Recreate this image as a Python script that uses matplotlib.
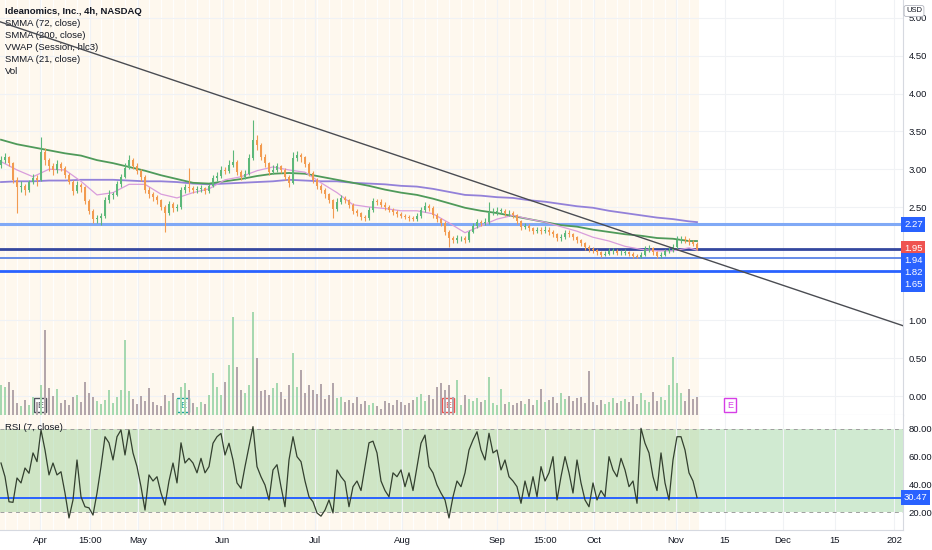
import numpy as np
import matplotlib.pyplot as plt
from matplotlib import transforms

plt.rcParams['font.family'] = ['Liberation Sans Narrow', 'Liberation Sans', 'DejaVu Sans']

# 4h candles, one entry per bar (left to right)
opens = [3.05, 3.12, 3.16, 3.08, 2.86, 2.76, 2.78, 2.72, 2.83, 2.88,
         2.86, 3.23, 3.12, 3.04, 2.99, 3.07, 3.02, 2.92, 2.83, 2.71,
         2.79, 2.76, 2.58, 2.45, 2.34, 2.35, 2.38, 2.59, 2.66, 2.66,
         2.80, 2.90, 3.02, 3.12, 3.04, 2.98, 2.90, 2.72, 2.67, 2.63,
         2.59, 2.50, 2.42, 2.54, 2.49, 2.50, 2.72, 2.76, 2.75, 2.72,
         2.74, 2.75, 2.71, 2.78, 2.88, 2.91, 2.99, 2.98, 3.06, 3.10,
         2.96, 2.90, 2.94, 3.15, 3.39, 3.32, 3.16, 3.08, 2.96, 2.99,
         3.04, 2.99, 2.90, 2.82, 3.15, 3.19, 3.16, 3.07, 2.95, 2.86,
         2.78, 2.72, 2.67, 2.59, 2.47, 2.57, 2.62, 2.59, 2.53, 2.45,
         2.42, 2.37, 2.35, 2.46, 2.58, 2.57, 2.53, 2.50, 2.46, 2.43,
         2.41, 2.38, 2.37, 2.35, 2.34, 2.38, 2.46, 2.51, 2.49, 2.39,
         2.34, 2.29, 2.17, 2.09, 2.06, 2.09, 2.09, 2.06, 2.17, 2.25,
         2.30, 2.29, 2.30, 2.43, 2.43, 2.45, 2.45, 2.42, 2.42, 2.39,
         2.31, 2.24, 2.25, 2.22, 2.18, 2.20, 2.18, 2.20, 2.17, 2.14,
         2.09, 2.10, 2.16, 2.14, 2.10, 2.06, 2.02, 1.97, 1.94, 1.93,
         1.90, 1.87, 1.88, 1.92, 1.92, 1.89, 1.89, 1.90, 1.88, 1.85,
         1.84, 1.87, 1.94, 1.96, 1.90, 1.85, 1.87, 1.92, 1.93, 1.97,
         2.06, 2.08, 2.06, 2.04, 2.01]
closes = [3.12, 3.16, 3.08, 2.86, 2.76, 2.78, 2.72, 2.83, 2.88, 2.86,
          3.23, 3.12, 3.04, 2.99, 3.07, 3.02, 2.92, 2.83, 2.71, 2.79,
          2.76, 2.58, 2.45, 2.34, 2.35, 2.38, 2.59, 2.66, 2.66, 2.80,
          2.90, 3.02, 3.12, 3.04, 2.98, 2.90, 2.72, 2.67, 2.63, 2.59,
          2.50, 2.42, 2.54, 2.49, 2.50, 2.72, 2.76, 2.75, 2.72, 2.74,
          2.75, 2.71, 2.78, 2.88, 2.91, 2.99, 2.98, 3.06, 3.10, 2.96,
          2.90, 2.94, 3.15, 3.39, 3.32, 3.16, 3.08, 2.96, 2.99, 3.04,
          2.99, 2.90, 2.82, 3.15, 3.19, 3.16, 3.07, 2.95, 2.86, 2.78,
          2.72, 2.67, 2.59, 2.47, 2.57, 2.62, 2.59, 2.53, 2.45, 2.42,
          2.37, 2.35, 2.46, 2.58, 2.57, 2.53, 2.50, 2.46, 2.43, 2.41,
          2.38, 2.37, 2.35, 2.34, 2.38, 2.46, 2.51, 2.49, 2.39, 2.34,
          2.29, 2.17, 2.09, 2.06, 2.09, 2.09, 2.06, 2.17, 2.25, 2.30,
          2.29, 2.30, 2.43, 2.43, 2.45, 2.45, 2.42, 2.42, 2.39, 2.31,
          2.24, 2.25, 2.22, 2.18, 2.20, 2.18, 2.20, 2.17, 2.14, 2.09,
          2.10, 2.16, 2.14, 2.10, 2.06, 2.02, 1.97, 1.94, 1.93, 1.90,
          1.87, 1.88, 1.92, 1.92, 1.89, 1.89, 1.90, 1.88, 1.85, 1.84,
          1.87, 1.94, 1.96, 1.90, 1.85, 1.87, 1.92, 1.93, 1.97, 2.06,
          2.08, 2.06, 2.04, 2.01, 1.95]
highs = [3.18, 3.22, 3.18, 3.10, 2.90, 2.84, 2.80, 2.86, 2.93, 2.92,
         3.43, 3.28, 3.15, 3.08, 3.12, 3.10, 3.04, 2.95, 2.86, 2.84,
         2.82, 2.78, 2.60, 2.47, 2.40, 2.42, 2.63, 2.72, 2.70, 2.84,
         2.94, 3.08, 3.19, 3.15, 3.08, 3.00, 2.92, 2.76, 2.70, 2.66,
         2.61, 2.52, 2.58, 2.57, 2.54, 2.76, 2.80, 3.02, 2.78, 2.78,
         2.79, 2.77, 2.81, 2.92, 2.96, 3.04, 3.03, 3.12, 3.25, 3.12,
         2.99, 2.99, 3.20, 3.65, 3.45, 3.34, 3.20, 3.10, 3.05, 3.08,
         3.06, 3.01, 2.92, 3.23, 3.24, 3.22, 3.18, 3.09, 2.97, 2.88,
         2.80, 2.75, 2.69, 2.61, 2.62, 2.66, 2.64, 2.61, 2.55, 2.48,
         2.44, 2.40, 2.50, 2.62, 2.61, 2.60, 2.56, 2.53, 2.49, 2.46,
         2.44, 2.41, 2.40, 2.38, 2.42, 2.50, 2.57, 2.54, 2.51, 2.42,
         2.36, 2.31, 2.19, 2.12, 2.13, 2.12, 2.11, 2.20, 2.29, 2.34,
         2.33, 2.35, 2.57, 2.49, 2.50, 2.49, 2.47, 2.46, 2.45, 2.41,
         2.33, 2.29, 2.28, 2.24, 2.24, 2.23, 2.25, 2.23, 2.20, 2.16,
         2.14, 2.20, 2.19, 2.16, 2.12, 2.08, 2.04, 2.00, 1.97, 1.95,
         1.92, 1.92, 1.96, 1.96, 1.94, 1.93, 1.94, 1.92, 1.90, 1.88,
         1.91, 1.98, 2.00, 1.97, 1.92, 1.90, 1.95, 1.97, 2.01, 2.12,
         2.12, 2.11, 2.09, 2.07, 2.04]
lows = [3.02, 3.08, 3.04, 2.82, 2.42, 2.70, 2.66, 2.70, 2.80, 2.78,
        2.84, 3.05, 2.98, 2.92, 2.95, 2.97, 2.88, 2.80, 2.66, 2.68,
        2.70, 2.54, 2.41, 2.29, 2.29, 2.26, 2.36, 2.55, 2.60, 2.64,
        2.77, 2.88, 3.00, 3.00, 2.93, 2.85, 2.68, 2.62, 2.58, 2.54,
        2.46, 2.17, 2.40, 2.44, 2.45, 2.48, 2.68, 2.70, 2.68, 2.69,
        2.70, 2.67, 2.69, 2.76, 2.85, 2.88, 2.93, 2.95, 3.03, 2.92,
        2.86, 2.87, 2.92, 3.12, 3.25, 3.12, 3.03, 2.92, 2.93, 2.96,
        2.95, 2.86, 2.77, 2.80, 3.11, 3.10, 3.03, 2.91, 2.82, 2.74,
        2.68, 2.62, 2.55, 2.35, 2.45, 2.54, 2.55, 2.49, 2.41, 2.38,
        2.33, 2.31, 2.33, 2.44, 2.53, 2.50, 2.46, 2.43, 2.40, 2.37,
        2.35, 2.34, 2.32, 2.31, 2.32, 2.36, 2.44, 2.45, 2.36, 2.30,
        2.25, 2.13, 1.97, 2.02, 2.03, 2.05, 2.03, 2.04, 2.15, 2.22,
        2.25, 2.26, 2.28, 2.39, 2.40, 2.41, 2.38, 2.38, 2.35, 2.27,
        2.20, 2.21, 2.18, 2.14, 2.15, 2.14, 2.15, 2.13, 2.10, 2.05,
        2.05, 2.08, 2.10, 2.06, 2.02, 1.98, 1.93, 1.90, 1.89, 1.86,
        1.84, 1.85, 1.86, 1.88, 1.86, 1.86, 1.86, 1.85, 1.82, 1.82,
        1.82, 1.85, 1.91, 1.87, 1.82, 1.82, 1.85, 1.89, 1.91, 1.95,
        2.03, 2.02, 2.00, 1.98, 1.93]
# volume in millions
volume = [3.0, 2.8, 3.3, 2.5, 1.2, 0.9, 1.5, 1.0, 1.8, 1.3,
          3.0, 8.5, 2.7, 1.9, 2.6, 1.2, 1.5, 1.0, 1.8, 2.0,
          1.3, 3.3, 2.2, 1.8, 1.4, 1.1, 1.5, 2.5, 1.2, 1.8,
          2.5, 7.5, 2.4, 1.6, 1.1, 1.9, 1.4, 2.7, 1.3, 1.0,
          0.9, 2.0, 1.4, 2.2, 1.6, 2.8, 3.2, 2.5, 1.2, 0.8,
          1.3, 1.1, 2.0, 4.2, 2.8, 2.0, 3.3, 5.0, 9.8, 4.8,
          2.5, 2.2, 3.0, 10.3, 5.7, 2.4, 2.5, 2.0, 2.7, 3.2,
          2.3, 1.6, 3.0, 6.2, 2.8, 4.5, 2.2, 3.0, 2.5, 2.1,
          3.1, 1.6, 2.0, 3.2, 1.7, 1.8, 1.3, 1.5, 1.2, 1.8,
          1.1, 1.4, 1.0, 1.2, 0.9, 0.6, 1.4, 1.2, 1.0, 1.5,
          1.3, 1.0, 1.2, 1.5, 1.8, 2.1, 1.4, 2.0, 1.6, 2.8,
          3.2, 2.5, 3.0, 1.8, 3.5, 1.0, 2.0, 1.6, 1.4, 1.7,
          1.3, 1.5, 3.8, 1.2, 1.0, 2.6, 1.1, 1.3, 1.0, 1.2,
          1.4, 1.1, 1.6, 1.0, 1.5, 2.6, 1.3, 1.5, 1.8, 1.2,
          2.2, 1.6, 1.9, 1.4, 1.7, 1.8, 1.2, 4.4, 1.3, 1.0,
          1.5, 1.1, 1.3, 1.7, 1.2, 1.4, 1.6, 1.3, 1.9, 1.1,
          2.2, 1.5, 1.3, 2.3, 1.4, 1.8, 1.5, 3.0, 5.8, 3.2,
          2.2, 1.4, 2.6, 1.6, 1.8]
rsi = [55.4, 45.5, 27.4, 27.0, 44.6, 41.0, 51.8, 48.0, 62.7, 56.4,
       79.3, 64.8, 46.8, 55.4, 46.8, 49.1, 33.7, 15.7, 28.7, 57.6,
       31.0, 23.8, 23.0, 17.8, 33.7, 52.8, 74.4, 70.0, 57.6, 74.4,
       79.3, 61.2, 79.3, 62.7, 52.8, 38.3, 21.4, 46.8, 42.4, 45.5,
       33.7, 25.0, 42.4, 55.4, 41.0, 70.0, 55.4, 58.8, 55.4, 48.3,
       58.8, 48.3, 52.8, 69.7, 74.4, 76.8, 61.2, 69.7, 57.6, 41.0,
       37.1, 52.8, 67.2, 81.7, 52.8, 45.5, 39.5, 28.7, 50.4, 54.2,
       38.3, 23.8, 57.6, 74.4, 60.0, 56.4, 42.4, 31.0, 27.4, 19.3,
       17.0, 21.4, 28.7, 19.3, 50.4, 45.5, 41.9, 23.8, 38.3, 42.4,
       35.5, 52.8, 70.0, 71.2, 62.7, 42.4, 35.5, 31.0, 48.3, 45.5,
       50.4, 38.3, 48.3, 35.5, 52.8, 69.7, 75.6, 52.8, 48.3, 39.5,
       33.7, 28.7, 15.7, 31.0, 42.4, 38.3, 48.3, 64.8, 72.0, 78.0,
       64.8, 57.6, 76.9, 62.7, 64.8, 50.4, 57.6, 45.5, 42.4, 38.3,
       26.3, 42.4, 31.0, 45.5, 31.0, 52.8, 42.4, 48.3, 60.0, 28.7,
       45.5, 60.0, 48.3, 33.7, 57.6, 41.0, 28.7, 23.8, 41.0, 28.7,
       35.5, 31.0, 60.0, 50.4, 45.5, 58.8, 50.4, 38.3, 42.4, 26.3,
       80.5, 69.7, 62.7, 45.5, 35.5, 62.7, 41.0, 28.7, 57.6, 74.4,
       74.4, 64.8, 48.3, 42.4, 30.5]

# moving averages, read every 4th bar
ma_bars = list(range(0, 173, 4)) + [174]
smma21 = [3.10, 2.99, 2.90, 3.00, 2.99, 2.84, 2.66, 2.69, 2.80, 2.80,
          2.67, 2.62, 2.69, 2.74, 2.86, 2.90, 2.98, 3.03, 2.99, 2.96,
          2.82, 2.69, 2.53, 2.50, 2.48, 2.45, 2.45, 2.41, 2.29, 2.16,
          2.25, 2.34, 2.39, 2.34, 2.30, 2.24, 2.18, 2.10, 2.05, 1.98,
          1.94, 1.92, 1.92, 1.96, 1.93]
smma72 = [3.39, 3.33, 3.29, 3.25, 3.21, 3.18, 3.12, 3.08, 3.03, 2.98,
          2.92, 2.87, 2.82, 2.81, 2.84, 2.87, 2.91, 2.94, 2.95, 2.94,
          2.90, 2.86, 2.82, 2.78, 2.73, 2.69, 2.66, 2.61, 2.55, 2.49,
          2.45, 2.42, 2.38, 2.34, 2.30, 2.26, 2.24, 2.20, 2.17, 2.14,
          2.12, 2.09, 2.08, 2.05, 2.05]
smma200 = [2.83, 2.84, 2.84, 2.85, 2.85, 2.86, 2.86, 2.86, 2.85, 2.84,
           2.84, 2.83, 2.81, 2.80, 2.81, 2.82, 2.83, 2.84, 2.86, 2.85,
           2.84, 2.84, 2.82, 2.81, 2.80, 2.78, 2.77, 2.74, 2.70, 2.66,
           2.65, 2.63, 2.62, 2.59, 2.57, 2.54, 2.51, 2.49, 2.45, 2.42,
           2.39, 2.36, 2.34, 2.31, 2.30]

# drawn trend line (bar, price) and horizontal levels
trend_pts = [(-0.25, 4.95), (225.5, 0.93)]
levels = [2.27, 1.94, 1.82, 1.65]
level_colors = ['#80a9f6', '#34479f', '#5b84e6', '#2962ff']
level_widths = [2.2, 2.0, 1.3, 2.0]
last_price = 1.95
rsi_last = 30.47

# earnings markers (bar position)
earn_bars = [9.75, 45.5, 111.75, 182.25]
earn_colors = ['#50535e', '#1ba39c', '#ef5350', '#d63ee6']

# time axis labels
tick_bars = [9.75, 22.25, 34.25, 55.5, 78.5, 100.25, 124, 136, 148.25, 168.75,
             181, 195.5, 208.5, 223.25]
tick_labels = ['Apr', '15:00', 'May', 'Jun', 'Jul', 'Aug', 'Sep', '15:00', 'Oct',
               'Nov', '15', 'Dec', '15', '202']
price_ticks = [0.0, 0.5, 1.0, 2.5, 3.0, 3.5, 4.0, 4.5, 5.0]

legend_lines = ['SMMA (72, close)', 'SMMA (200, close)', 'VWAP (Session, hlc3)',
                'SMMA (21, close)', 'Vol']

txt = '#131722'
sep = '#d6d9e0'
cream = '#fef8ee'
up_c, dn_c = '#5cb87a', '#f29b50'
vup_c, vdn_c = '#a6d8b0', '#b3a6ab'

x = np.arange(len(closes))
o = np.array(opens)
c = np.array(closes)
up = c >= o

fig = plt.figure(figsize=(9.32, 5.5), dpi=100)
ax = fig.add_axes([0, 135 / 550, 903 / 932, 415 / 550])
ax_r = fig.add_axes([0, 20 / 550, 903 / 932, 115 / 550], sharex=ax)
axv = ax.twinx()

xmin, xmax = -0.25, 225.5
ax.set_xlim(xmin, xmax)
ax.set_ylim(-0.251, 5.238)
ax_r.set_ylim(7.0, 90.1)
axv.set_ylim(0, 41.5)
axv.set_axis_off()

# session shading
for a in (ax, ax_r):
    a.axvspan(xmin, x[-1] + 0.6, color=cream, lw=0, zorder=0)
    for xb in x[1::3]:
        a.axvline(xb, color='white', lw=0.9, alpha=0.9, zorder=0.2)
    a.grid(True, color='#f0f2f5', lw=0.8, zorder=0.1)
    a.set_axisbelow(True)
    for s in a.spines.values():
        s.set_visible(False)
    a.spines['right'].set_visible(True)
    a.spines['right'].set_color(sep)
    a.spines['bottom'].set_visible(True)
    a.spines['bottom'].set_color(sep)
    a.yaxis.tick_right()
    a.tick_params(axis='both', length=0, labelsize=6.8, colors=txt, pad=4)
ax_r.grid(False, axis='y')

# price pane
ax.set_yticks(price_ticks)
ax.set_yticklabels([f'{v:.2f}' for v in price_ticks])
ax.tick_params(axis='x', labelbottom=False)

for lv, col, lw in zip(levels, level_colors, level_widths):
    ax.axhline(lv, color=col, lw=lw, zorder=2)

ax.plot(ma_bars, smma200, color='#9381d9', lw=1.3, zorder=3)
ax.plot(ma_bars, smma72, color='#4f9a5a', lw=1.3, zorder=3)
ax.plot(ma_bars, smma21, color='#d99ddc', lw=0.9, zorder=3)

ax.vlines(x, lows, highs, colors=np.where(up, up_c, dn_c), lw=0.8, zorder=4)
body = np.where(np.abs(c - o) < 0.006, 0.006, c - o)
ax.bar(x, body, bottom=o, width=0.5, color=np.where(up, up_c, dn_c), lw=0, zorder=4)

ax.axline(trend_pts[0], trend_pts[1], color='#4a4c52', lw=1.0, zorder=5)

axv.bar(x, volume, width=0.42, color=np.where(up, vup_c, vdn_c), lw=0)

blend = transforms.blended_transform_factory(ax.transData, ax.transAxes)
for eb, ec in zip(earn_bars, earn_colors):
    ax.text(eb, 0.024, 'E', transform=blend, ha='center', va='center', fontsize=6.5,
            color=ec, zorder=6,
            bbox=dict(boxstyle='square,pad=0.3', fc='white', ec=ec, lw=1.0))

# legend texts
ax.annotate('Ideanomics, Inc., 4h, NASDAQ', xy=(0, 1), xycoords='axes fraction',
            xytext=(5, -12), textcoords='offset pixels', fontsize=6.8,
            color=txt, weight='bold', va='center')
for k, name in enumerate(legend_lines):
    ax.annotate(name, xy=(0, 1), xycoords='axes fraction',
                xytext=(5, -24 - 12 * k), textcoords='offset pixels',
                fontsize=6.8, color=txt, va='center')

ax.annotate('USD', xy=(1, 1), xycoords='axes fraction', xytext=(11, -11),
            textcoords='offset pixels', ha='center', va='center', fontsize=5.5,
            color=txt, annotation_clip=False,
            bbox=dict(boxstyle='round,pad=0.25', fc='white', ec='#b2b5be', lw=0.6))

# price labels on the right scale, stacked so they do not overlap
labels = [(2.27, '#2962ff'), (last_price, '#ef5350'), (1.94, '#2962ff'),
          (1.82, '#2962ff'), (1.65, '#2962ff')]
x_disp = ax.transAxes.transform((1, 0))[0] + 1
prev = None
for val, col in labels:
    yd = ax.transData.transform((0, val))[1]
    if prev is not None and prev - yd < 12:
        yd = prev - 12
    prev = yd
    fig.text(x_disp, yd, f'{val:.2f}', transform=None, ha='left', va='center',
             fontsize=6.8, color='white', zorder=10,
             bbox=dict(boxstyle='square,pad=0.28', fc=col, ec=col, lw=0))

# RSI pane
ax_r.axhspan(20, 80, color='#4caf50', alpha=0.26, lw=0, zorder=0.3)
for lv in (20, 80):
    ax_r.axhline(lv, color='#9e9e9e', lw=0.7, ls=(0, (4, 4)), zorder=1)
ax_r.axhline(rsi_last, color='#2962ff', lw=1.4, zorder=2)
ax_r.plot(x, rsi, color='#33402f', lw=0.9, zorder=3)
ax_r.set_yticks([20, 40, 60, 80])
ax_r.set_yticklabels(['20.00', '40.00', '60.00', '80.00'])
ax_r.set_xticks(tick_bars)
ax_r.set_xticklabels(tick_labels)
ax_r.annotate('RSI (7, close)', xy=(0, 1), xycoords='axes fraction',
              xytext=(5, -12), textcoords='offset pixels', fontsize=6.8,
              color=txt, va='center')
yd = ax_r.transData.transform((0, rsi_last))[1]
fig.text(x_disp, yd, f'{rsi_last:.2f}', transform=None, ha='left', va='center',
         fontsize=6.8, color='white', zorder=10,
         bbox=dict(boxstyle='square,pad=0.28', fc='#2962ff', ec='#2962ff', lw=0))

fig.savefig('out.png', dpi=100)
